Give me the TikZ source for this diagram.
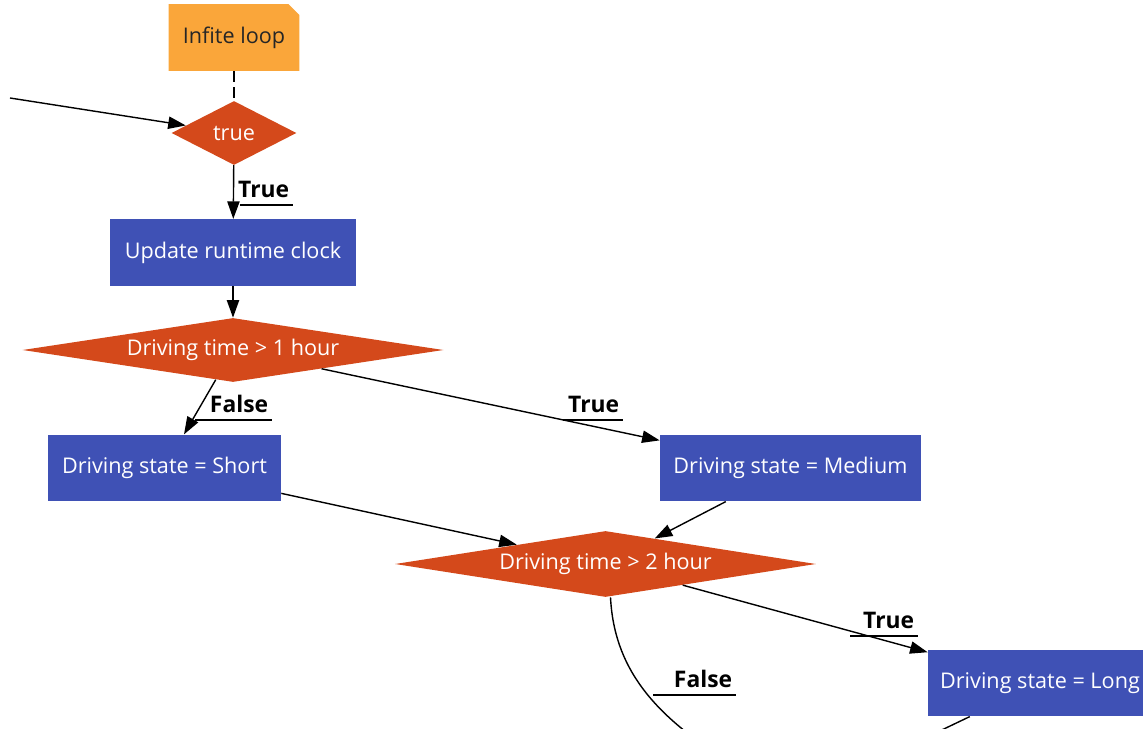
\documentclass[tikz,border=0pt]{standalone}
\usepackage{fontspec}
\setmainfont{Open Sans}
\usetikzlibrary{arrows.meta,shapes.geometric}
\definecolor{noteorange}{RGB}{250,166,58}
\definecolor{condred}{RGB}{212,73,27}
\definecolor{actblue}{RGB}{63,81,181}
\tikzset{
  flowarrow/.style={-{Triangle[length=10pt,width=7pt]}, line width=0.8pt},
  plainline/.style={line width=0.8pt},
  notebox/.style={minimum width=2.62cm, minimum height=1.34cm, text=black!85,
    path picture={\fill[noteorange] (path picture bounding box.south west)
      |- ([xshift=-0.22cm]path picture bounding box.north east)
      -- ([yshift=-0.22cm]path picture bounding box.north east) |- cycle;}},
  actbox/.style={rectangle, fill=actblue, text=white, minimum height=1.33cm, inner sep=0pt},
  cond/.style={diamond, fill=condred, text=white, inner sep=0pt, minimum height=1.28cm},
  edgelabel/.style={font=\fontsize{13}{15}\selectfont\bfseries, anchor=south east, inner xsep=2pt, inner ysep=4pt}
}
\begin{document}
\begin{tikzpicture}[x=0.02cm, y=-0.02cm, every node/.style={font=\fontsize{12.3}{15}\selectfont}]
  \useasboundingbox (0,0) rectangle (1143,729);
  \clip (0,0) rectangle (1143,729);
  \node[notebox] (loop) at (234,37.5) {Infite loop};
  \node[cond, aspect=2, minimum width=2.5cm] (tru) at (234,133) {true};
  \node[actbox, minimum width=4.92cm] (upd) at (233,252.5) {Update runtime clock};
  \node[cond, aspect=7, minimum width=8.42cm] (d1) at (233,350) {Driving time > 1 hour};
  \node[actbox, minimum width=4.66cm] (short) at (164.5,468) {Driving state = Short};
  \node[actbox, minimum width=5.22cm] (med) at (790.5,468) {Driving state = Medium};
  \node[cond, aspect=7, minimum width=8.42cm, minimum height=1.32cm] (d2) at (605.5,564) {Driving time > 2 hour};
  \node[actbox, minimum width=4.48cm] (long) at (1040,683) {Driving state = Long};

  \coordinate (entry) at (10,98);
  \coordinate (fout) at (735,765);
  \coordinate (lout) at (925,738);

  \draw[plainline, dashed, dash pattern=on 6pt off 3pt] (loop) -- (tru);
  \draw[flowarrow] (entry) -- (tru);
  \draw[flowarrow] (tru) -- (upd);
  \draw[flowarrow] (upd) -- (d1);
  \draw[flowarrow] (d1) -- (short);
  \draw[flowarrow] (d1) -- (med);
  \draw[flowarrow] (short) -- (d2);
  \draw[flowarrow] (med) -- (d2);
  \draw[flowarrow] (d2) -- (long);
  \draw[plainline] ([xshift=0.1cm]d2.south) .. controls (614,665) and (650,715) .. (fout);
  \draw[plainline] (long) -- (lout);

  \node[edgelabel] (lt1) at (293,205) {True};
  \node[edgelabel] (lf1) at (272,420) {False};
  \node[edgelabel] (lt2) at (623,420) {True};
  \node[edgelabel] (lt3) at (918,636) {True};
  \node[edgelabel] (lf2) at (736,695) {False};
  \coordinate (u1) at (240,205);
  \coordinate (u2) at (195,420);
  \coordinate (u3) at (563,420);
  \coordinate (u4) at (850,636);
  \coordinate (u5) at (653,695);
  \draw[plainline] (u1) -- (lt1.south east);
  \draw[plainline] (u2) -- (lf1.south east);
  \draw[plainline] (u3) -- (lt2.south east);
  \draw[plainline] (u4) -- (lt3.south east);
  \draw[plainline] (u5) -- (lf2.south east);
\end{tikzpicture}
\end{document}
